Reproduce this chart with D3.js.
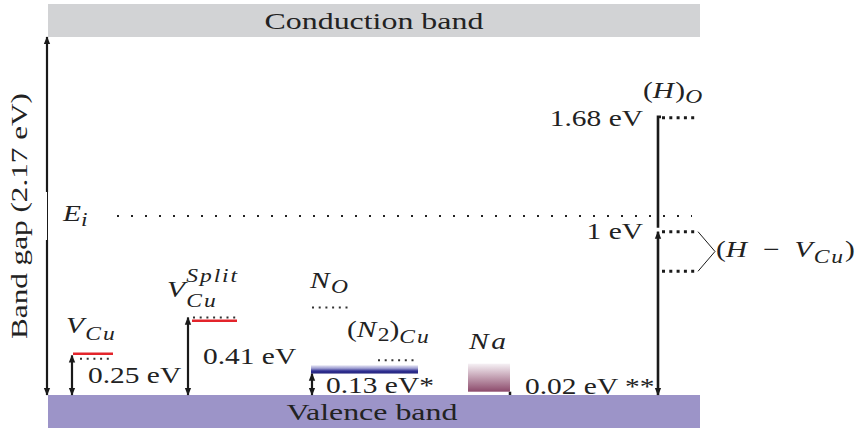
<!DOCTYPE html>
<html>
<head>
<meta charset="utf-8">
<script src="https://cdn.jsdelivr.net/npm/d3@7"></script>
<style>
  body { margin: 0; background: #fff; }
  svg text { font-family: "Liberation Serif", "DejaVu Serif", serif; fill: #222; white-space: pre; }
</style>
</head>
<body>
<div id="chart"></div>
<script>
// --- data (energies in eV above the valence band) ---
const bandGap = 2.17;
const defectNames = ["V_Cu", "V_Cu^Split", "N_O", "(N_2)_Cu", "Na", "(H)_O", "(H-V_Cu)"];
const arrowEnergies = [0.24, 0.47, 0.13, 0.02, 1.68];   // V_Cu, V_Cu^Split, N, Na, H
const redLevels = [0.25, 0.45];                          // V_Cu, V_Cu^Split
const dotLevels = [0.22, 0.47, 0.53, 0.21];              // V_Cu, V_Cu^Split, N_O, (N2)_Cu
const hLevels = [1.68, 0.99, 0.75];                      // (H)_O, (H-V_Cu) pair
const nBand = [0.13, 0.18];
const naBand = [0.02, 0.19];
const energyLabels = ["0.25 eV", "0.41 eV", "0.13 eV*", "0.02 eV **", "1.68 eV", "1 eV"];

const width = 859;
const height = 430;

const svg = d3
  .select("#chart")
  .append("svg")
  .attr("width", width)
  .attr("height", height);

const y = d3.scaleLinear().domain([0, bandGap]).range([395, 37]);
const left = 48, right = 700;

// column x positions (layout only)
const col = {
  vcu: { arrow: 72, red: [73, 113], dot: [80, 113] },
  split: { arrow: 188, red: [192, 237], dot: [193, 237] },
  n: { arrow: 312, bar: [311, 418], dotO: [312, 352], dot2: [378, 418] },
  na: { arrow: 510, rect: [468, 510] },
  h: { arrow: 658, dot: [660, 698] }
};

const defs = svg.append("defs");
defs
  .append("marker")
  .attr("id", "head")
  .attr("viewBox", "0 -5 10 10")
  .attr("refX", 9)
  .attr("refY", 0)
  .attr("markerUnits", "userSpaceOnUse")
  .attr("markerWidth", 8)
  .attr("markerHeight", 8)
  .attr("orient", "auto-start-reverse")
  .append("path")
  .attr("d", "M0,-4L10,0L0,4Z")
  .attr("fill", "#1a1a1a");

const blueGrad = defs.append("linearGradient").attr("id", "blueGrad").attr("x1", 0).attr("y1", 0).attr("x2", 0).attr("y2", 1);
[["0%", "#e4e4f3"], ["35%", "#a3a3d4"], ["70%", "#2e2e90"], ["100%", "#26267e"]].forEach(([o, c]) =>
  blueGrad.append("stop").attr("offset", o).attr("stop-color", c)
);
const naGrad = defs.append("linearGradient").attr("id", "naGrad").attr("x1", 0).attr("y1", 0).attr("x2", 0).attr("y2", 1);
[["0%", "#f6f1f5"], ["100%", "#8c4a6b"]].forEach(([o, c]) =>
  naGrad.append("stop").attr("offset", o).attr("stop-color", c)
);

// --- bands ---
svg.append("rect")
  .attr("x", left).attr("y", 4)
  .attr("width", right - left).attr("height", y(bandGap) - 4)
  .attr("fill", "#d2d3d5");

svg.append("rect")
  .attr("x", left).attr("y", y(0))
  .attr("width", right - left).attr("height", 428 - y(0))
  .attr("fill", "#9c94c8");

// text helper: segments laid out one after another, stretched along the baseline
function label(x, yy, segs, opts = {}) {
  const { anchor = "start", size = 23, sx = 1.28, rotate = 0 } = opts;
  const g = svg.append("g");
  let cursor = 0, prevStart = 0;
  segs.forEach((s) => {
    const fs = s.script ? size * 0.8 : size;
    const start = s.stack ? prevStart : cursor;
    const t = g.append("text")
      .attr("x", start)
      .attr("y", s.dy || 0)
      .attr("font-size", fs)
      .attr("font-style", s.it ? "italic" : "normal")
      .attr("letter-spacing", s.ls || 0)
      .text(s.t);
    const w = t.node().getComputedTextLength();
    prevStart = start;
    cursor = Math.max(cursor, start + w + (s.gap || 0));
  });
  const shift = anchor === "end" ? -cursor : anchor === "middle" ? -cursor / 2 : 0;
  g.selectAll("text").attr("x", function () { return +d3.select(this).attr("x") + shift; });
  g.attr("transform", `translate(${x},${yy}) rotate(${rotate}) scale(${sx},1)`);
  return g;
}

label(374, 29, [{ t: "Conduction band" }], { anchor: "middle", size: 24, sx: 1.33 });
label(372, 420, [{ t: "Valence band" }], { anchor: "middle", size: 24, sx: 1.33 });
label(27, y(bandGap / 2), [{ t: "Band gap (2.17 eV)" }], { anchor: "middle", size: 24, sx: 1.3, rotate: -90 });

// --- band gap arrow (with the thin gap near mid-gap) ---
svg.append("line")
  .attr("x1", 47).attr("x2", 47).attr("y1", 192).attr("y2", y(bandGap))
  .attr("stroke", "#1a1a1a").attr("stroke-width", 2.2)
  .attr("marker-end", "url(#head)");
svg.append("line")
  .attr("x1", 47.5).attr("x2", 47.5).attr("y1", 192).attr("y2", 240)
  .attr("stroke", "#1a1a1a").attr("stroke-width", 1);
svg.append("line")
  .attr("x1", 47).attr("x2", 47).attr("y1", 240).attr("y2", y(0))
  .attr("stroke", "#1a1a1a").attr("stroke-width", 2.2)
  .attr("marker-end", "url(#head)");

// --- intrinsic level ---
svg.append("line")
  .attr("x1", 117).attr("x2", 692)
  .attr("y1", y(bandGap / 2)).attr("y2", y(bandGap / 2))
  .attr("stroke", "#222").attr("stroke-width", 2)
  .attr("stroke-dasharray", "2 12");
label(63, y(bandGap / 2) + 5, [{ t: "E", it: true }, { t: "i", it: true, script: true, dy: 5 }]);

// --- defect arrows ---
const arrowX = [col.vcu.arrow, col.split.arrow, col.n.arrow];
svg.append("g")
  .selectAll("line")
  .data(arrowEnergies.slice(0, 3))
  .join("line")
  .attr("x1", (d, i) => arrowX[i]).attr("x2", (d, i) => arrowX[i])
  .attr("y1", (d) => y(d)).attr("y2", y(0))
  .attr("stroke", "#1a1a1a").attr("stroke-width", 2.2)
  .attr("marker-start", "url(#head)")
  .attr("marker-end", "url(#head)");

// Na: tiny 0.02 eV step
svg.append("line")
  .attr("x1", col.na.arrow).attr("x2", col.na.arrow)
  .attr("y1", y(arrowEnergies[3])).attr("y2", y(0))
  .attr("stroke", "#1a1a1a").attr("stroke-width", 2.5);

// red levels
const redX = [col.vcu.red, col.split.red];
svg.append("g")
  .selectAll("line")
  .data(redLevels)
  .join("line")
  .attr("x1", (d, i) => redX[i][0]).attr("x2", (d, i) => redX[i][1])
  .attr("y1", (d) => y(d)).attr("y2", (d) => y(d))
  .attr("stroke", "#e3242b").attr("stroke-width", 2.5);

// short dotted levels
const dotX = [col.vcu.dot, col.split.dot, col.n.dotO, col.n.dot2];
svg.append("g")
  .selectAll("line")
  .data(dotLevels)
  .join("line")
  .attr("x1", (d, i) => dotX[i][0]).attr("x2", (d, i) => dotX[i][1])
  .attr("y1", (d) => y(d)).attr("y2", (d) => y(d))
  .attr("stroke", "#333").attr("stroke-width", 2)
  .attr("stroke-dasharray", "2 4.7");

// nitrogen band and sodium band
svg.append("rect")
  .attr("x", col.n.bar[0]).attr("width", col.n.bar[1] - col.n.bar[0])
  .attr("y", y(nBand[1])).attr("height", y(nBand[0]) - y(nBand[1]))
  .attr("fill", "url(#blueGrad)");
svg.append("rect")
  .attr("x", col.na.rect[0]).attr("width", col.na.rect[1] - col.na.rect[0])
  .attr("y", y(naBand[1])).attr("height", y(naBand[0]) - y(naBand[1]))
  .attr("fill", "url(#naGrad)");

// --- hydrogen ---
const hx = col.h.arrow;
svg.append("line")
  .attr("x1", hx).attr("x2", hx)
  .attr("y1", y(hLevels[1])).attr("y2", y(0))
  .attr("stroke", "#1a1a1a").attr("stroke-width", 2.6)
  .attr("marker-start", "url(#head)")
  .attr("marker-end", "url(#head)");
svg.append("path")
  .attr("d", `M${hx},${y(hLevels[1]) - 4}V${y(hLevels[0]) - 1}H${hx + 3}`)
  .attr("fill", "none")
  .attr("stroke", "#1a1a1a").attr("stroke-width", 2.6);

svg.append("g")
  .selectAll("line")
  .data(hLevels)
  .join("line")
  .attr("x1", col.h.dot[0] + 2).attr("x2", col.h.dot[1])
  .attr("y1", (d) => y(d)).attr("y2", (d) => y(d))
  .attr("stroke", "#1a1a1a").attr("stroke-width", 3)
  .attr("stroke-dasharray", "3 4.3");

// bracket for the H-V_Cu pair
const tipX = 715, tipY = (y(hLevels[1]) + y(hLevels[2])) / 2;
svg.append("path")
  .attr("d", `M${col.h.dot[1]},${y(hLevels[1])}L${tipX},${tipY}L${col.h.dot[1]},${y(hLevels[2])}`)
  .attr("fill", "none")
  .attr("stroke", "#1a1a1a").attr("stroke-width", 1);

// --- labels ---
label(66, 333, [{ t: "V", it: true, gap: 1 }, { t: "Cu", it: true, script: true, dy: 7, ls: 1.5 }]);
label(167, 297, [
  { t: "V", it: true, gap: 1 },
  { t: "Split", it: true, script: true, dy: -15, ls: 1.5 },
  { t: "Cu", it: true, script: true, dy: 10, stack: true, ls: 1.5 }
]);
label(310, 288, [{ t: "N", it: true, gap: 1 }, { t: "O", it: true, script: true, dy: 5 }]);
label(347, 337, [
  { t: "(" },
  { t: "N", it: true, gap: 1 },
  { t: "2", script: true, dy: 4 },
  { t: ")" },
  { t: "Cu", it: true, script: true, dy: 6, ls: 1.5 }
]);
label(469, 349, [{ t: "N", it: true, gap: 2 }, { t: "a", it: true }]);
label(643, 98, [{ t: "(" }, { t: "H", it: true, gap: 1 }, { t: ")" }, { t: "O", it: true, script: true, dy: 5 }]);
label(716, 257, [
  { t: "(" },
  { t: "H", it: true, gap: 1 },
  { t: "  −  " },
  { t: "V", it: true, gap: 1 },
  { t: "Cu", it: true, script: true, dy: 6, ls: 1.5 },
  { t: ")" }
]);

// energy values
label(88, 383, [{ t: energyLabels[0] }]);
label(203, 364, [{ t: energyLabels[1] }]);
label(326, 393, [{ t: energyLabels[2] }]);
label(525, 394, [{ t: energyLabels[3] }]);
label(643, 126, [{ t: energyLabels[4] }], { anchor: "end" });
label(643, 239, [{ t: energyLabels[5] }], { anchor: "end" });
</script>
</body>
</html>
